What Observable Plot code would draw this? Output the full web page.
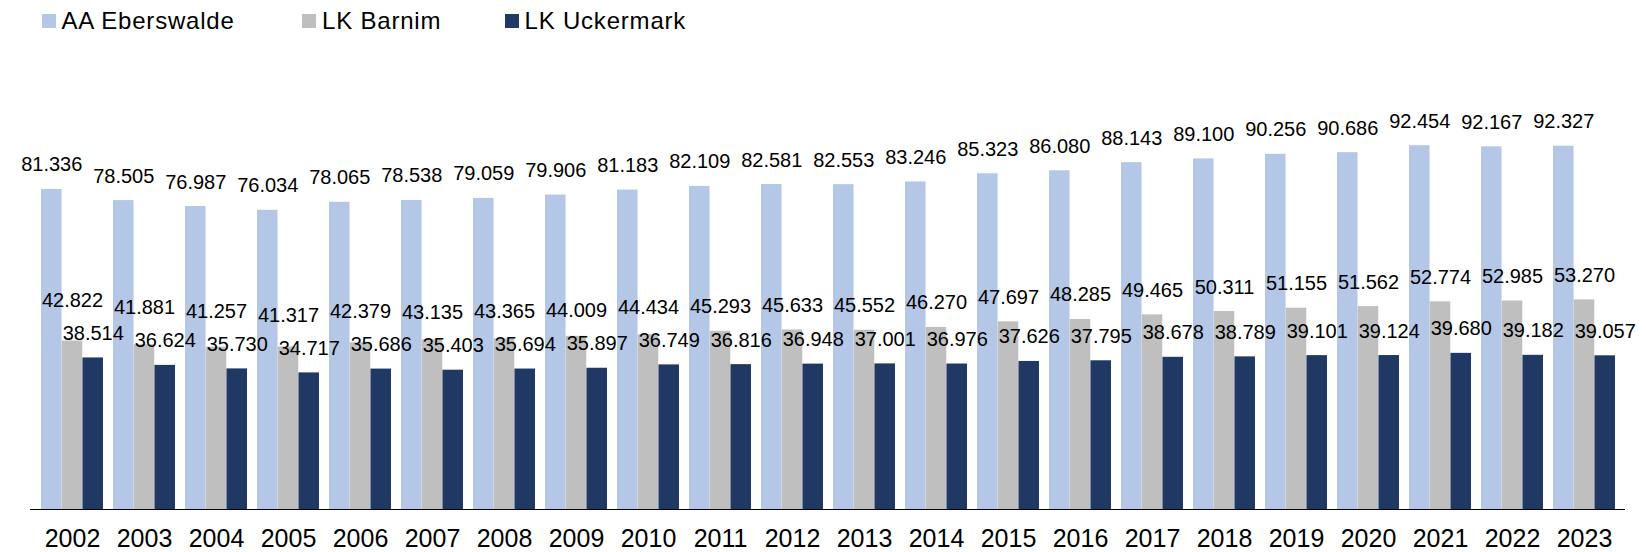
<!DOCTYPE html>
<html>
<head>
<meta charset="utf-8">
<script src="https://cdn.jsdelivr.net/npm/d3@7"></script>
<script src="https://cdn.jsdelivr.net/npm/@observablehq/plot@0.6"></script>
<style>
  html, body { margin: 0; background: #fff; font-family: "Liberation Sans", Arial, sans-serif; overflow: hidden; }
  #legend { position: relative; width: 1646px; height: 36px; }
  .item { position: absolute; top: 2px; height: 37px; display: flex; align-items: center;
          font-size: 24px; color: #000; letter-spacing: 0.8px; white-space: nowrap; }
  .sw { width: 14px; height: 14px; margin-right: 6px; flex: none; }
  #chart svg { display: block; }
</style>
</head>
<body>
<div id="legend"></div>
<div id="chart"></div>
<script>
// ---- data ----
const years = ["2002","2003","2004","2005","2006","2007","2008","2009","2010","2011","2012",
               "2013","2014","2015","2016","2017","2018","2019","2020","2021","2022","2023"];
const seriesNames = ["AA Eberswalde", "LK Barnim", "LK Uckermark"];
const eberswalde = [81336,78505,76987,76034,78065,78538,79059,79906,81183,82109,82581,
                    82553,83246,85323,86080,88143,89100,90256,90686,92454,92167,92327];
const barnim     = [42822,41881,41257,41317,42379,43135,43365,44009,44434,45293,45633,
                    45552,46270,47697,48285,49465,50311,51155,51562,52774,52985,53270];
const uckermark  = [38514,36624,35730,34717,35686,35403,35694,35897,36749,36816,36948,
                    37001,36976,37626,37795,38678,38789,39101,39124,39680,39182,39057];
const seriesValues = [eberswalde, barnim, uckermark];
const colors = ["#B4C7E7", "#BFBFBF", "#203864"];

// ---- layout ----
const W = 1646, H = 516, ML = 30, MR = 21, MT = 79.5, MB = 43;
const YMAX = 100000;
const PI = 0.142;
const step = (W - ML - MR) / years.length;
const bw = step * (1 - PI);
const barW = bw / 3;
const pxPerUnit = (H - MT - MB) / YMAX;
const labelGap = 18;       // px between bar top and label baseline
const labelClear = 33;     // px kept between stacked labels of neighbouring bars

const fmt = d3.formatLocale({decimal: ",", thousands: ".", grouping: [3], currency: ["", " €"]}).format(",");

// legend
const legendX = [41.5, 302, 504.5];
const legend = document.getElementById("legend");
seriesNames.forEach((name, k) => {
  const it = document.createElement("div");
  it.className = "item";
  it.style.left = legendX[k] + "px";
  const sw = document.createElement("span");
  sw.className = "sw";
  sw.style.background = colors[k];
  it.appendChild(sw);
  it.appendChild(document.createTextNode(name));
  legend.appendChild(it);
});

const marks = [];
seriesValues.forEach((vals, k) => {
  const rows = years.map((y, i) => ({year: y, value: vals[i], i}));
  marks.push(Plot.barY(rows, {
    x: "year", y: "value", fill: colors[k],
    insetLeft: k * barW, insetRight: (2 - k) * barW
  }));
  // label anchor (data units): just above the bar; the middle series is lifted
  // when it would collide with the label of the right-hand neighbour bar
  const labelY = d => {
    let v = d.value + labelGap / pxPerUnit;
    if (k === 1) v = Math.max(v, uckermark[d.i] + (labelGap + labelClear) / pxPerUnit);
    return v;
  };
  marks.push(Plot.text(rows, {
    x: "year", y: labelY, text: d => fmt(d.value),
    dx: (k - 1) * barW, lineAnchor: "bottom",
    fontSize: 20, fill: "#000"
  }));
});
marks.push(Plot.ruleY([0], {stroke: "#000", strokeWidth: 1}));
marks.push(Plot.axisX({tickSize: 0, tickPadding: 19.25, fontSize: 25, label: null, fill: "#000"}));

const chart = Plot.plot({
  width: W, height: H,
  marginLeft: ML, marginRight: MR, marginTop: MT, marginBottom: MB,
  style: {fontFamily: "'Liberation Sans', Arial, sans-serif", color: "#000", background: "#fff", overflow: "visible"},
  x: {domain: years, paddingInner: PI, paddingOuter: PI / 2, axis: null},
  y: {domain: [0, YMAX], axis: null},
  marks
});
document.getElementById("chart").appendChild(chart);
</script>
</body>
</html>
